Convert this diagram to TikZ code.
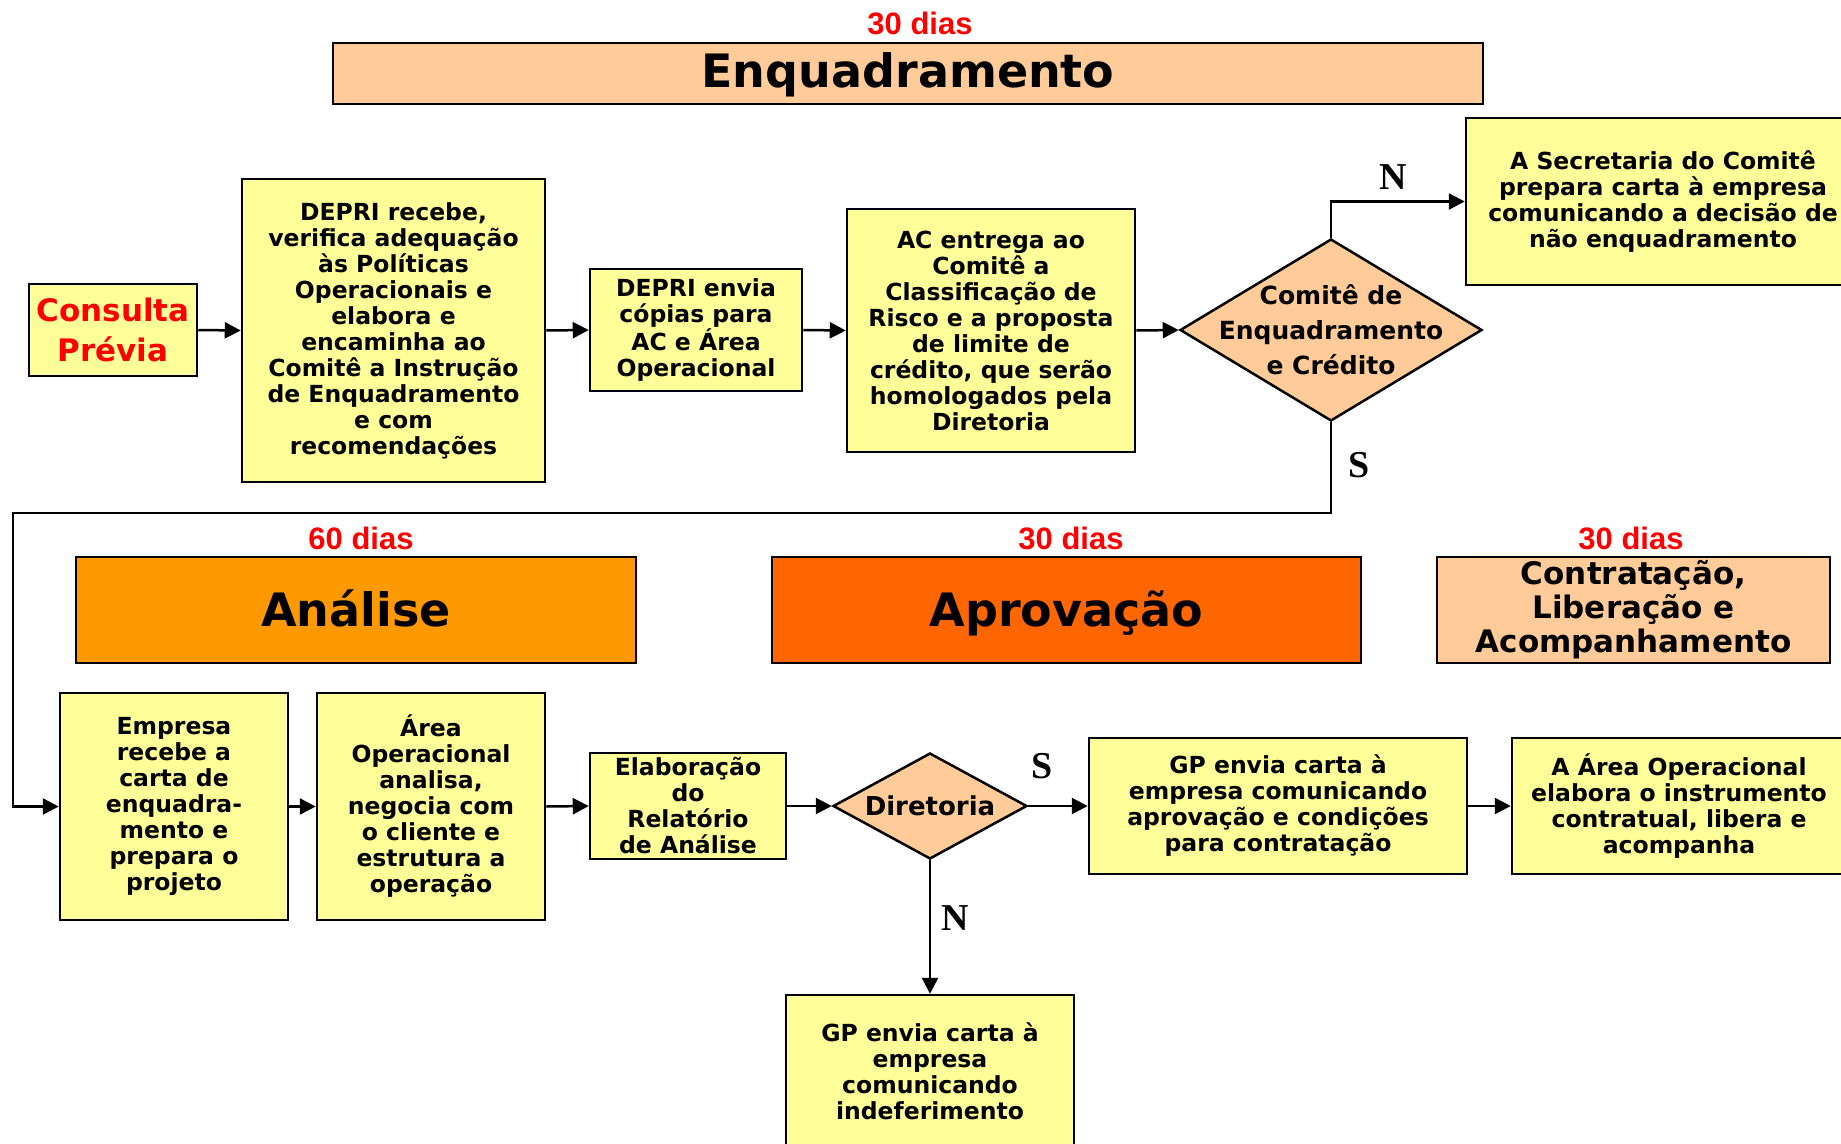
\documentclass[tikz,border=0pt]{standalone}
\usepackage{fontspec}
\usetikzlibrary{arrows.meta,shapes.geometric}
\newfontfamily\verd{DejaVu Sans}
\newfontfamily\arialf{Liberation Sans}
\newfontfamily\timesf{Liberation Serif}
\definecolor{boxy}{HTML}{FFFF99}
\definecolor{peach}{HTML}{FFCC99}
\definecolor{orng}{HTML}{FF9900}
\definecolor{dorng}{HTML}{FF6600}
\definecolor{redt}{HTML}{FF0000}
\begin{document}
\begin{tikzpicture}[x=1pt,y=-1pt,
  box/.style={draw=black, line width=2.5pt, fill=boxy, align=center, inner sep=0pt,
    font=\verd\bfseries\fontsize{23.5}{26}\selectfont},
  titlebox/.style={draw=black, line width=2.5pt, align=center, inner sep=0pt,
    font=\verd\bfseries\fontsize{46}{50}\selectfont},
  onetitle/.style={text height=38pt, text depth=6pt},
  dia/.style={draw=black, line width=2.5pt, fill=peach, shape=diamond, inner sep=0pt},
  dtext/.style={align=center, inner sep=0pt, font=\verd\bfseries\fontsize{25}{35}\selectfont},
  days/.style={text=redt, inner sep=0pt, font=\arialf\bfseries\fontsize{31}{34}\selectfont},
  labl/.style={inner sep=0pt, font=\timesf\bfseries\fontsize{38}{40}\selectfont},
  arr/.style={line width=2.5pt, -{Triangle[length=16pt,width=16pt]}},
]
\useasboundingbox (0,0) rectangle (1841,1143);
\clip (0,0) rectangle (1841,1143);
\fill[white] (0,0) rectangle (1841,1143);

% top phase
\node[days] (d1) at (920,23) {30 dias};
\node[titlebox, text height=35pt, text depth=8pt, fill=peach, minimum width=1150pt, minimum height=61pt] (tenq) at (908,73.5) {Enquadramento};

% top row
\node[box, minimum width=168pt, minimum height=92pt, text=redt,
  font=\verd\bfseries\fontsize{31}{40}\selectfont] (cons) at (113,330) {Consulta\\Prévia};
\node[box, minimum width=303pt, minimum height=303pt] (dep1) at (393.5,330.5)
  {DEPRI recebe,\\verifica adequação\\às Políticas\\Operacionais e\\elabora e\\encaminha ao\\Comitê a Instrução\\de Enquadramento\\e com\\recomendações};
\node[box, minimum width=212pt, minimum height=122pt] (dep2) at (696,330)
  {DEPRI envia\\cópias para\\AC e Área\\Operacional};
\node[box, minimum width=288pt, minimum height=243pt] (ac) at (991,330.5)
  {AC entrega ao\\Comitê a\\Classificação de\\Risco e a proposta\\de limite de\\crédito, que serão\\homologados pela\\Diretoria};
\node[dia, minimum width=302pt, minimum height=182pt] (com) at (1331,330) {};
\node[dtext] (comt) at (com.center) {Comitê de\\Enquadramento\\e Crédito};
\node[box, minimum width=394pt, minimum height=167pt] (sec) at (1663,201.5)
  {A Secretaria do Comitê\\prepara carta à empresa\\comunicando a decisão de\\não enquadramento};

\draw[arr] (cons.east) -- (dep1.west);
\draw[arr] (dep1.east) -- (dep2.west);
\draw[arr] (dep2.east) -- (ac.west);
\draw[arr] (ac.east) -- (com.west);
\draw[arr] (com.north) |- (sec.west);
\node[labl] (ln1) at (1393,177) {N};
\node[labl] (ls1) at (1359,465) {S};

% lower phases
\node[days] (d2) at (361,538) {60 dias};
\node[titlebox, onetitle, fill=orng, minimum width=560pt, minimum height=106pt] (tana) at (356,610) {Análise};
\node[days] (d3) at (1071,538) {30 dias};
\node[titlebox, onetitle, fill=dorng, minimum width=589pt, minimum height=106pt] (tapr) at (1066.5,610) {Aprovação};
\node[days] (d4) at (1631,538) {30 dias};
\node[titlebox, fill=peach, minimum width=393pt, minimum height=106pt,
  font=\verd\bfseries\fontsize{31}{34}\selectfont] (tcon) at (1633.5,610)
  {Contratação,\\Liberação e\\Acompanhamento};

% lower row
\node[box, minimum width=228pt, minimum height=227pt] (emp) at (174,806.5)
  {Empresa\\recebe a\\carta de\\enquadra-\\mento e\\prepara o\\projeto};
\node[box, minimum width=228pt, minimum height=227pt] (area) at (431,806.5)
  {Área\\Operacional\\analisa,\\negocia com\\o cliente e\\estrutura a\\operação};
\node[box, minimum width=196pt, minimum height=106pt] (elab) at (688,806)
  {Elaboração\\do\\Relatório\\de Análise};
\node[dia, minimum width=194pt, minimum height=106pt] (dir) at (930,806) {};
\node[dtext, font=\verd\bfseries\fontsize{26}{30}\selectfont] (dirt) at (dir.center) {Diretoria};
\node[box, minimum width=378pt, minimum height=136pt] (gp) at (1278,806)
  {GP envia carta à\\empresa comunicando\\aprovação e condições\\para contratação};
\node[box, minimum width=334pt, minimum height=136pt] (aar) at (1679,806)
  {A Área Operacional\\elabora o instrumento\\contratual, libera e\\acompanha};
\node[box, minimum width=288pt, minimum height=152pt] (ind) at (930,1071)
  {GP envia carta à\\empresa\\comunicando\\indeferimento};

\coordinate (c1) at (13,513);
\draw[arr] (com.south) |- (c1) |- (emp.west);
\draw[arr] (emp.east) -- (area.west);
\draw[arr] (area.east) -- (elab.west);
\draw[arr] (elab.east) -- (dir.west);
\draw[arr] (dir.east) -- (gp.west);
\draw[arr] (gp.east) -- (aar.west);
\draw[arr] (dir.south) -- (ind.north);
\node[labl] (ls2) at (1042,766) {S};
\node[labl] (ln2) at (955,918) {N};
\end{tikzpicture}
\end{document}
